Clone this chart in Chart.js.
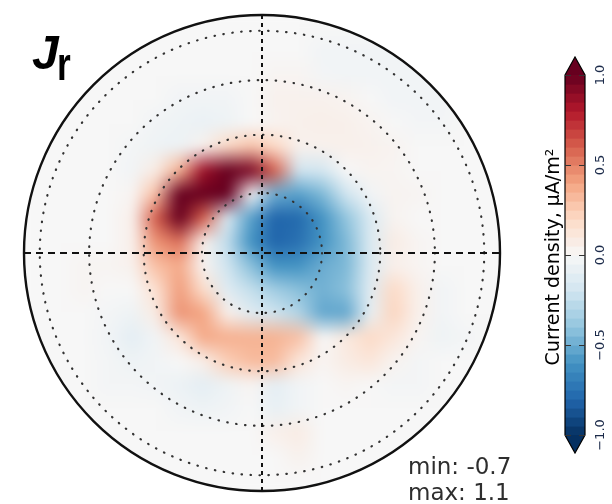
<!DOCTYPE html>
<html>
<head>
<meta charset="utf-8">
<script src="https://cdn.jsdelivr.net/npm/chart.js@4.4.0/dist/chart.umd.min.js"></script>
<style>
  html, body { margin: 0; padding: 0; background: #fff; }
  canvas { display: block; }
</style>
</head>
<body>
<canvas id="chart" width="612" height="504"></canvas>
<script>
// dotted rings and map edge, colatitude in degrees
const ringColat = [10, 20, 30, 40];
const edgeColat = 43.5;

// Jr, 20 x 20 cells over the map square, top row first
const gridValues = [
  [0,0,0,0,0,0,0,0,0,0,0,0,0,0,0,0,0,0,0,0],
  [0,0,0,0,0,0,0,0,0,0,0,0,-0.03,-0.03,-0.03,-0.03,-0.03,0,0,0],
  [0,0,0,0,0,0,0,0,0,0,0.02,0.02,-0.02,-0.03,-0.03,-0.03,-0.03,-0.02,0,0],
  [0,0,0,0,0,0,-0.03,-0.03,-0.03,0,0.04,0.04,0.04,0.03,0,-0.03,-0.03,-0.03,0,0],
  [0,0,0,0,0,-0.03,-0.05,-0.07,-0.05,0,0.03,0.05,0.06,0.05,0.03,0,-0.02,-0.02,0,0],
  [0,0,0,0,-0.02,-0.05,-0.06,0.04,0.2,0.28,0.2,0.04,0.04,0.05,0.04,0.03,0,0,0,0],
  [0,0,0,0,-0.03,0.08,0.35,0.85,1.1,0.95,0.6,-0.2,-0.18,0.0,0.03,0.02,0,0,0,0],
  [0,0,0,0,0.02,0.3,1.1,1.3,1.0,0.0,-0.5,-0.55,-0.45,-0.2,-0.03,0.03,0.02,0,0,0],
  [0,0,0,0,0.05,0.6,1.0,0.6,-0.15,-0.55,-0.8,-0.78,-0.6,-0.4,-0.15,0.03,0,0,0,0],
  [0,0,0,0,0.05,0.45,0.55,0.05,-0.25,-0.6,-0.8,-0.75,-0.6,-0.45,-0.15,0.08,0.02,0,0,0],
  [0,0,0.02,0.02,0.04,0.3,0.38,0.02,-0.2,-0.42,-0.6,-0.6,-0.5,-0.45,-0.15,0.05,0.02,0,0,0],
  [0,0,0.02,0,0,0.15,0.42,0.18,-0.12,-0.24,-0.35,-0.42,-0.48,-0.42,-0.12,0.2,0.05,-0.03,0,0],
  [0,0,0,-0.02,-0.05,0.08,0.45,0.4,0.05,-0.12,-0.2,-0.3,-0.52,-0.52,-0.08,0.22,0.05,-0.03,0,0],
  [0,0,0,-0.03,-0.1,-0.03,0.12,0.38,0.36,0.35,0.35,0.3,0,0.1,0.2,0.12,0.02,-0.05,-0.02,0],
  [0,0,0,-0.02,-0.05,-0.03,0,0.06,0.25,0.32,0.32,0.12,0.02,0.08,0.12,0.03,-0.02,0,0,0],
  [0,0,0,-0.02,-0.02,-0.03,-0.06,-0.1,-0.05,0.02,-0.1,-0.03,0,0.02,0,-0.02,-0.02,0,0,0],
  [0,0,0,0,0,0,-0.03,-0.05,-0.03,0,-0.08,-0.03,0,0,0,0,0,0,0,0],
  [0,0,0,0,0,0,0,0,0,0,0.05,0.08,0,0,0,0,0,0,0,0],
  [0,0,0,0,0,0,0,0,0,0,0,0.04,0,0,0,0,0,0,0,0],
  [0,0,0,0,0,0,0,0,0,0,0,0,0,0,0,0,0,0,0,0]
];

const cbarTicks = [-1.0, -0.5, 0.0, 0.5, 1.0];
const cbarTickLabels = ['\u22121.0', '\u22120.5', '0.0', '0.5', '1.0'];
const cbarTitle = 'Current density, \u03bcA/m\u00b2';
const vMin = -1, vMax = 1;
const statMin = -0.7, statMax = 1.1;

// RdBu_r
const cmap = ['#053061','#2166ac','#4393c3','#92c5de','#d1e5f0','#f7f7f7',
              '#fddbc7','#f4a582','#d6604d','#b2182b','#67001f'];

function hexRgb(h) {
    return [parseInt(h.slice(1, 3), 16), parseInt(h.slice(3, 5), 16), parseInt(h.slice(5, 7), 16)];
}

function colorFor(v) {
    let t = (v - vMin) / (vMax - vMin);
    t = Math.max(0, Math.min(1, t)) * (cmap.length - 1);
    const k = Math.min(Math.floor(t), cmap.length - 2);
    const f = t - k;
    const a = hexRgb(cmap[k]), b = hexRgb(cmap[k + 1]);
    const c = a.map((x, i) => Math.round(x + (b[i] - x) * f));
    return `rgb(${c[0]},${c[1]},${c[2]})`;
}

const rad = d => d * Math.PI / 180;
const rMax = Math.sin(rad(edgeColat));

// Draw the map, rings, cross and colorbar
const polarMap = {
    id: 'polarMap',
    beforeDatasetsDraw(chart) {
        const { ctx, scales: { x, y } } = chart;
        const cx = x.getPixelForValue(0), cy = y.getPixelForValue(0);
        const R = x.getPixelForValue(rMax) - cx;
        const n = gridValues.length;

        // one texel per cell, smoothed when stretched over the map square
        const off = document.createElement('canvas');
        off.width = n;
        off.height = n;
        const o = off.getContext('2d');
        gridValues.forEach((row, j) => {
            row.forEach((v, i) => {
                o.fillStyle = colorFor(v);
                o.fillRect(i, j, 1, 1);
            });
        });
        const x0 = x.getPixelForValue(-rMax), x1 = x.getPixelForValue(rMax);
        const y0 = y.getPixelForValue(rMax), y1 = y.getPixelForValue(-rMax);

        ctx.save();
        ctx.beginPath();
        ctx.arc(cx, cy, R, 0, 2 * Math.PI);
        ctx.clip();
        ctx.fillStyle = colorFor(0);
        ctx.fillRect(x0 - 20, y0 - 20, x1 - x0 + 40, y1 - y0 + 40);
        ctx.imageSmoothingEnabled = true;
        ctx.imageSmoothingQuality = 'low';
        ctx.filter = 'blur(5px)';
        ctx.drawImage(off, x0, y0, x1 - x0, y1 - y0);
        ctx.filter = 'none';

        // dotted rings
        ctx.strokeStyle = '#333';
        ctx.lineWidth = 2.2;
        ctx.lineCap = 'round';
        ctx.setLineDash([0.5, 8.5]);
        ringColat.forEach(c => {
            const r = x.getPixelForValue(Math.sin(rad(c))) - cx;
            ctx.beginPath();
            ctx.arc(cx, cy, r, 0, 2 * Math.PI);
            ctx.stroke();
        });
        ctx.lineCap = 'butt';

        // dashed cross
        ctx.strokeStyle = '#111';
        ctx.lineWidth = 2;
        ctx.setLineDash([7, 5]);
        ctx.beginPath();
        ctx.moveTo(x.getPixelForValue(-rMax), cy);
        ctx.lineTo(x.getPixelForValue(rMax), cy);
        ctx.stroke();
        ctx.setLineDash([4, 4]);
        ctx.beginPath();
        ctx.moveTo(cx, y.getPixelForValue(rMax));
        ctx.lineTo(cx, y.getPixelForValue(-rMax));
        ctx.stroke();
        ctx.restore();

        // outer edge
        ctx.save();
        ctx.strokeStyle = '#111';
        ctx.lineWidth = 2.4;
        ctx.beginPath();
        ctx.arc(cx, cy, R, 0, 2 * Math.PI);
        ctx.stroke();
        ctx.restore();
    },
    afterDraw(chart) {
        const ctx = chart.ctx;

        // colorbar
        const cbX = 565, cbW = 20, cbTop = 75, cbBot = 435, tip = 18, levels = 40;
        const cbY = v => cbBot - (v - vMin) / (vMax - vMin) * (cbBot - cbTop);
        ctx.save();
        for (let k = 0; k < levels; k++) {
            const v0 = vMin + k * (vMax - vMin) / levels;
            const v1 = vMin + (k + 1) * (vMax - vMin) / levels;
            ctx.fillStyle = colorFor((v0 + v1) / 2);
            ctx.fillRect(cbX, cbY(v1), cbW, cbY(v0) - cbY(v1) + 0.6);
        }
        ctx.fillStyle = cmap[cmap.length - 1];
        ctx.beginPath();
        ctx.moveTo(cbX, cbTop);
        ctx.lineTo(cbX + cbW / 2, cbTop - tip);
        ctx.lineTo(cbX + cbW, cbTop);
        ctx.fill();
        ctx.fillStyle = cmap[0];
        ctx.beginPath();
        ctx.moveTo(cbX, cbBot);
        ctx.lineTo(cbX + cbW / 2, cbBot + tip);
        ctx.lineTo(cbX + cbW, cbBot);
        ctx.fill();

        ctx.strokeStyle = '#000';
        ctx.lineWidth = 1.2;
        ctx.beginPath();
        ctx.moveTo(cbX, cbTop);
        ctx.lineTo(cbX + cbW / 2, cbTop - tip);
        ctx.lineTo(cbX + cbW, cbTop);
        ctx.lineTo(cbX + cbW, cbBot);
        ctx.lineTo(cbX + cbW / 2, cbBot + tip);
        ctx.lineTo(cbX, cbBot);
        ctx.closePath();
        ctx.stroke();

        // ticks and labels
        ctx.strokeStyle = '#333';
        ctx.lineWidth = 1;
        ctx.fillStyle = '#1c2b4a';
        ctx.font = '13px "DejaVu Sans"';
        ctx.textAlign = 'center';
        ctx.textBaseline = 'alphabetic';
        cbarTicks.forEach((t, i) => {
            const ty = Math.round(cbY(t)) + 0.5;
            ctx.beginPath();
            ctx.moveTo(cbX, ty); ctx.lineTo(cbX + 6, ty);
            ctx.moveTo(cbX + cbW - 6, ty); ctx.lineTo(cbX + cbW, ty);
            ctx.stroke();
            ctx.save();
            ctx.translate(604, cbY(t));
            ctx.rotate(-Math.PI / 2);
            ctx.fillText(cbarTickLabels[i], 0, 0);
            ctx.restore();
        });

        ctx.save();
        ctx.fillStyle = '#000';
        ctx.font = '19px "DejaVu Sans"';
        ctx.translate(559, 257);
        ctx.rotate(-Math.PI / 2);
        ctx.fillText(cbarTitle, 0, 0);
        ctx.restore();

        // title J_r
        ctx.textAlign = 'left';
        ctx.fillStyle = '#000';
        ctx.font = 'italic bold 48px "Liberation Sans"';
        ctx.fillText('J', 32, 69);
        ctx.save();
        ctx.translate(57, 80);
        ctx.scale(0.75, 1);
        ctx.font = 'bold 47px "Liberation Sans"';
        ctx.fillText('r', 0, 0);
        ctx.restore();

        // min / max
        ctx.fillStyle = '#2e2e2e';
        ctx.font = '23px "DejaVu Sans"';
        ctx.fillText('min: ' + statMin.toFixed(1), 408, 474);
        ctx.fillText('max: ' + statMax.toFixed(1), 408, 500);
        ctx.restore();
    }
};

new Chart(document.getElementById('chart'), {
    type: 'scatter',
    data: { datasets: [{ data: [] }] },
    options: {
        responsive: false,
        animation: false,
        devicePixelRatio: 1,
        layout: { padding: { left: 24, top: 15, right: 112, bottom: 13 } },
        plugins: { legend: { display: false }, tooltip: { enabled: false } },
        scales: {
            x: { type: 'linear', min: -rMax, max: rMax, display: false },
            y: { type: 'linear', min: -rMax, max: rMax, display: false }
        }
    },
    plugins: [polarMap]
});
</script>
</body>
</html>
